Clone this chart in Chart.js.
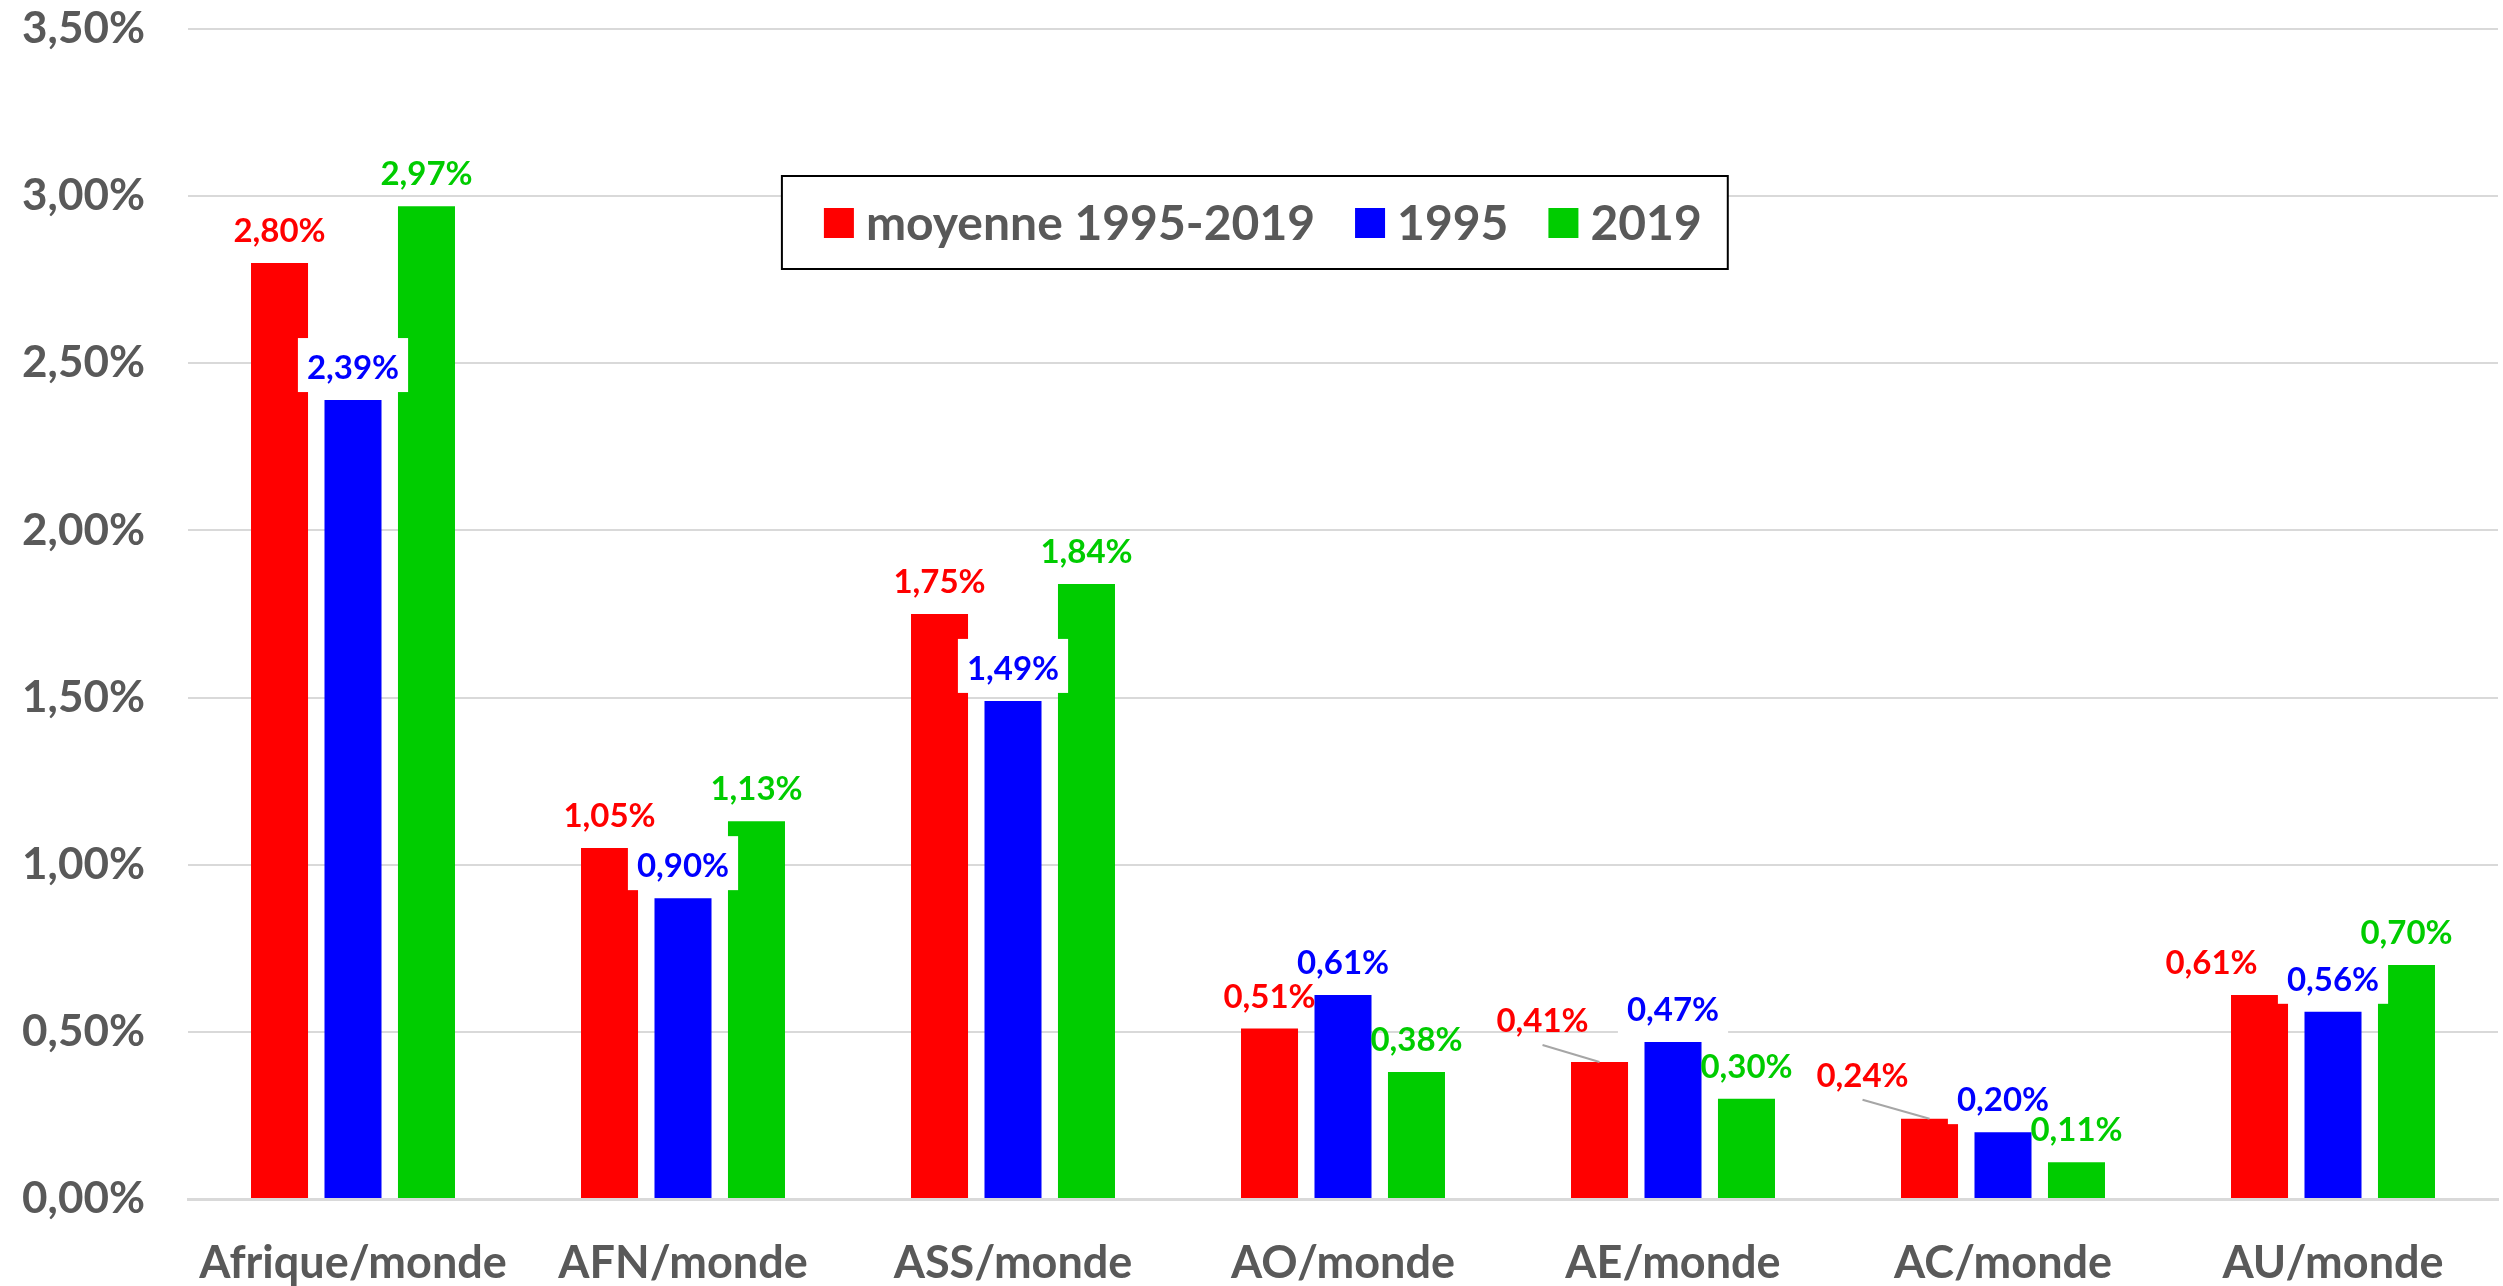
<!DOCTYPE html>
<html>
<head>
<meta charset="utf-8">
<script src="https://cdn.jsdelivr.net/npm/chart.js@4"></script>
<style>
  html, body { margin: 0; padding: 0; background: #fff; }
  .parts__box { width: 2503px; height: 1286px; }
</style>
</head>
<body>
<div class="parts__box"><canvas class="parts__chart"></canvas></div>
<script>
const categories = ['Afrique/monde', 'AFN/monde', 'ASS/monde', 'AO/monde', 'AE/monde', 'AC/monde', 'AU/monde'];
const seriesNames = ['moyenne 1995-2019', '1995', '2019'];
const moyenne = [2.80, 1.05, 1.75, 0.51, 0.41, 0.24, 0.61];
const annee1995 = [2.39, 0.90, 1.49, 0.61, 0.47, 0.20, 0.56];
const annee2019 = [2.97, 1.13, 1.84, 0.38, 0.30, 0.11, 0.70];
const yTicks = [0, 0.5, 1, 1.5, 2, 2.5, 3, 3.5];

const parts = document.querySelector('.parts__chart');
const gris = '#595959';
const fmt = v => v.toFixed(2).replace('.', ',') + '%';

// decalages des etiquettes (x, y, trait de rappel)
const decalMoyenne = [[0, 0], [0, 0], [0, 0], [0, 0], [-57, -9, true], [-67, -11, true], [-48, 0]];

const etiquettes = {
  id: 'etiquettes',
  afterDatasetsDraw(chart) {
    const ctx = chart.ctx;
    ctx.save();
    ctx.font = 'bold 33px Lato';
    const list = [];
    chart.data.datasets.forEach((ds, i) => {
      chart.getDatasetMeta(i).data.forEach((bar, j) => {
        const d = (ds.decal || [])[j] || [0, 0];
        list.push({
          text: fmt(ds.data[j]), x: bar.x + d[0], y: bar.y - 33 + d[1],
          color: ds.backgroundColor, fond: ds.fond, rappel: d[2], bx: bar.x, by: bar.y
        });
      });
    });
    list.forEach(l => {
      if (l.rappel) {
        ctx.strokeStyle = '#A6A6A6';
        ctx.lineWidth = 2;
        ctx.beginPath();
        ctx.moveTo(l.x, l.y + 25);
        ctx.lineTo(l.bx, l.by);
        ctx.stroke();
      }
      if (l.fond) {
        const w = ctx.measureText(l.text).width + 18;
        ctx.fillStyle = '#fff';
        ctx.fillRect(l.x - w / 2, l.y - 29, w, 54);
      }
    });
    ctx.textAlign = 'center';
    ctx.textBaseline = 'alphabetic';
    list.forEach(l => {
      ctx.fillStyle = l.color;
      ctx.fillText(l.text, l.x, l.y + 12);
    });
    ctx.restore();
  }
};

const legende = {
  id: 'legende',
  afterDraw(chart) {
    const ctx = chart.ctx;
    const area = chart.chartArea;
    ctx.save();
    ctx.font = 'bold 48px Lato';
    const items = chart.data.datasets.map(ds => ({ text: ds.label, color: ds.backgroundColor, w: ctx.measureText(ds.label).width }));
    const sq = 30, gap = 12, sep = 40, padL = 42, padR = 26;
    const inner = items.reduce((s, it) => s + sq + gap + it.w, 0) + sep * (items.length - 1);
    const boxW = inner + padL + padR, boxH = 93;
    const left = area.left + (area.right - area.left) * 0.2571, top = area.top + 147;
    ctx.fillStyle = '#fff';
    ctx.fillRect(left, top, boxW, boxH);
    ctx.strokeStyle = '#000';
    ctx.lineWidth = 2;
    ctx.strokeRect(left, top, boxW, boxH);
    let x = left + padL;
    const cy = top + 47;
    items.forEach(it => {
      ctx.fillStyle = it.color;
      ctx.fillRect(x, cy - sq / 2, sq, sq);
      x += sq + gap;
      ctx.fillStyle = gris;
      ctx.textBaseline = 'alphabetic';
      ctx.fillText(it.text, x, cy + 17);
      x += it.w + sep;
    });
    ctx.restore();
  }
};

new Chart(parts, {
  type: 'bar',
  data: {
    labels: categories,
    datasets: [{
      label: seriesNames[0],
      data: moyenne,
      backgroundColor: '#FF0000',
      decal: decalMoyenne
    }, {
      label: seriesNames[1],
      data: annee1995,
      backgroundColor: '#0000FF',
      fond: true
    }, {
      label: seriesNames[2],
      data: annee2019,
      backgroundColor: '#00CC00'
    }]
  },
  options: {
    responsive: true,
    maintainAspectRatio: false,
    animation: false,
    devicePixelRatio: 1,
    categoryPercentage: 0.668,
    barPercentage: 0.776,
    layout: {
      padding: { top: 29, right: 5, left: 0, bottom: 0 }
    },
    plugins: {
      legend: { display: false },
      tooltip: { enabled: false }
    },
    scales: {
      x: {
        grid: { display: false, drawTicks: false },
        border: { color: '#D9D9D9', width: 3 },
        ticks: {
          color: gris,
          padding: 37,
          font: { family: 'Lato', size: 45, weight: 'bold' }
        },
        afterFit: axis => {
          axis.height = 87;
          axis.paddingLeft = 0;
          axis.paddingRight = 0;
        }
      },
      y: {
        min: 0,
        max: 3.5,
        grid: { color: '#D9D9D9', lineWidth: 2, drawTicks: false },
        border: { display: false },
        afterBuildTicks: axis => { axis.ticks = yTicks.map(v => ({ value: v })); },
        ticks: {
          color: gris,
          padding: 43,
          font: { family: 'Lato', size: 44, weight: 'bold' },
          callback: v => fmt(v)
        },
        afterFit: axis => {
          axis.width = 188;
          axis.paddingTop = 0;
          axis.paddingBottom = 0;
        }
      }
    }
  },
  plugins: [etiquettes, legende]
});
</script>
</body>
</html>
